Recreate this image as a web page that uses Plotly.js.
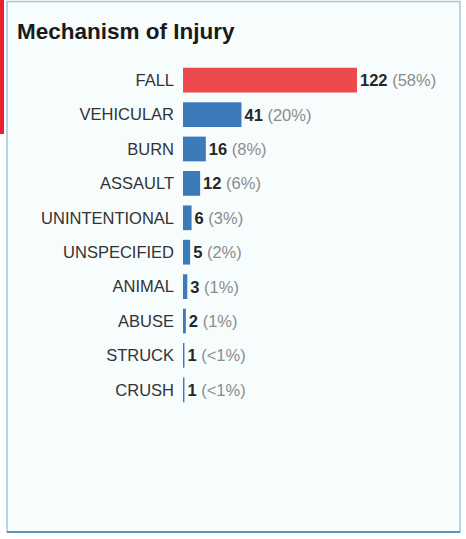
<!DOCTYPE html>
<html>
<head>
<meta charset="utf-8">
<script src="https://cdn.plot.ly/plotly-3.0.1.min.js"></script>
<style>html,body{margin:0;padding:0;background:#fff;}#chart{width:466px;height:539px;}</style>
</head>
<body>
<div id="chart"></div>
<script>
const categories = ["FALL","VEHICULAR","BURN","ASSAULT","UNINTENTIONAL","UNSPECIFIED","ANIMAL","ABUSE","STRUCK","CRUSH"];
const counts = [122, 41, 16, 12, 6, 5, 3, 2, 1, 1];
const percents = ["58%","20%","8%","6%","3%","2%","1%","1%","&lt;1%","&lt;1%"];
const titleText = "Mechanism of Injury";

const W = 466, H = 539;
const m = {l: 183, r: 11, t: 63, b: 132};
const pw = W - m.l - m.r, ph = H - m.t - m.b;
const px = x => (x - m.l) / pw;
const py = y => (H - m.b - y) / ph;

const colors = counts.map((v, i) => i === 0 ? "#ec4a4c" : "#3b7bba");
const labels = counts.map((v, i) => "<b>" + v + "</b> <span style='color:#8c8c8c'>(" + percents[i] + ")</span>");

const trace = {
  type: "bar",
  orientation: "h",
  x: counts,
  y: categories,
  marker: {color: colors, line: {width: 0}},
  width: 0.72,
  text: labels,
  textposition: "outside",
  textfont: {family: "Liberation Sans, Arial, sans-serif", size: 16.5, color: "#262626"},
  cliponaxis: false,
  hoverinfo: "skip"
};

const layout = {
  width: W, height: H,
  margin: m,
  paper_bgcolor: "#ffffff",
  plot_bgcolor: "rgba(0,0,0,0)",
  showlegend: false,
  title: {
    text: "<b>" + titleText + "</b>",
    font: {family: "Liberation Sans, Arial, sans-serif", size: 22.5, color: "#1a1a1a"},
    xref: "container", yref: "container",
    x: 17 / W, xanchor: "left",
    y: 1 - 31 / H, yanchor: "middle"
  },
  xaxis: {range: [0, pw / (174 / 122)], visible: false, fixedrange: true},
  yaxis: {
    type: "category",
    range: [9.5, -0.5],
    showgrid: false, zeroline: false, showline: false, ticks: "",
    ticklabelstandoff: 8,
    tickfont: {family: "Liberation Sans, Arial, sans-serif", size: 16.5, color: "#333333"},
    fixedrange: true
  },
  shapes: [
    {type: "rect", xref: "paper", yref: "paper", x0: px(7), x1: px(460), y0: py(1.5), y1: py(532), fillcolor: "#f7fcfd", line: {color: "#a3c8d8", width: 1.5}, layer: "below"},
    {type: "line", xref: "paper", yref: "paper", x0: px(7), x1: px(460), y0: py(532), y1: py(532), line: {color: "#5796b6", width: 2}, layer: "below"},
    {type: "rect", xref: "paper", yref: "paper", x0: px(0), x1: px(4), y0: py(0), y1: py(134), fillcolor: "#e8202f", line: {width: 0}, layer: "below"}
  ]
};

Plotly.newPlot("chart", [trace], layout, {displayModeBar: false, staticPlot: true});
</script>
</body>
</html>
